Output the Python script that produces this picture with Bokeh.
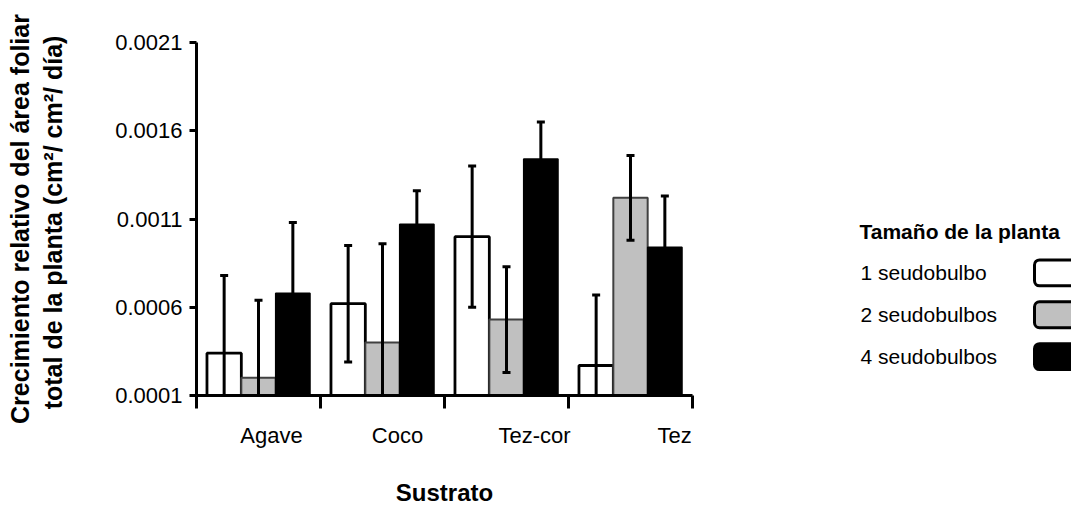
from bokeh.plotting import figure
from bokeh.models import (ColumnDataSource, Range1d, FixedTicker, PrintfTickFormatter,
                          Whisker, TeeHead)
from bokeh.layouts import row
from bokeh.core.properties import value
from bokeh.embed import file_html
from bokeh.resources import INLINE

# ---------------- data ----------------
categories = ["Agave", "Coco", "Tez-cor", "Tez"]
series_names = ["1 seudobulbo", "2 seudobulbos", "4 seudobulbos"]
vals_1 = [0.00034, 0.00062, 0.00100, 0.00027]
vals_2 = [0.00020, 0.00040, 0.00053, 0.00122]
vals_4 = [0.00068, 0.00107, 0.00144, 0.00094]
err_1 = [0.00044, 0.00033, 0.00040, 0.00040]
err_2 = [0.00044, 0.00056, 0.00030, 0.00024]
err_4 = [0.00040, 0.00019, 0.00021, 0.00029]
y_ticks = [0.0001, 0.0006, 0.0011, 0.0016, 0.0021]

# ---------------- styles ----------------
FONT = "Liberation Sans"
fills = ["white", "#c0c0c0", "black"]
lines = ["black", "#404040", "black"]
line_widths = [2.8, 2, 1.5]
bar_w = 0.277
offsets = [-bar_w, 0.0, bar_w]
label_shift = [0.105, 0.121, 0.226, 0.355]  # visual offset of category labels
Y0, Y1 = y_ticks[0], y_ticks[-1]
TOP, BOTTOM = 42, 112

p = figure(width=845, height=508, output_backend="svg", toolbar_location=None,
           x_range=Range1d(0, len(categories)), y_range=Range1d(Y0, Y1),
           min_border_left=196, min_border_right=153, min_border_top=TOP,
           min_border_bottom=BOTTOM)
p.outline_line_color = None
p.xgrid.visible = False
p.ygrid.visible = False
p.background_fill_color = "white"
p.border_fill_color = "white"

for vals, errs, off, fc, lc, lw in zip([vals_1, vals_2, vals_4], [err_1, err_2, err_4],
                                       offsets, fills, lines, line_widths):
    xs = [i + 0.5 + off for i in range(len(categories))]
    upper = [v + e for v, e in zip(vals, errs)]
    lower = [max(v - e, Y0) for v, e in zip(vals, errs)]
    src = ColumnDataSource(dict(x=xs, top=vals, upper=upper, lower=lower))
    p.vbar(x="x", top="top", bottom=Y0, width=bar_w, source=src,
           fill_color=fc, line_color=lc, line_width=lw)
    w = Whisker(source=src, base="x", upper="upper", lower="lower",
                line_color="black", line_width=3, level="overlay",
                upper_head=TeeHead(size=8, line_width=3, line_color="black"),
                lower_head=TeeHead(size=8, line_width=3, line_color="black"))
    p.add_layout(w)

# y axis
ya = p.yaxis[0]
ya.ticker = FixedTicker(ticks=y_ticks)
ya.formatter = PrintfTickFormatter(format="%.4f")
ya.axis_line_width = 3
ya.major_tick_line_width = 3
ya.major_tick_out = 7
ya.major_tick_in = 0
ya.minor_tick_line_color = None
ya.major_label_text_font = FONT
ya.major_label_text_font_size = "22px"
ya.major_label_text_color = "black"
ya.major_label_standoff = 7
ya.axis_label = "Crecimiento relativo del área foliar\ntotal de la planta  (cm²/ cm²/ día)"
ya.axis_label_text_font = FONT
ya.axis_label_text_font_style = "bold"
ya.axis_label_text_font_size = "25px"
ya.axis_label_text_color = "black"
ya.axis_label_standoff = 45

# x axis
label_pos = [i + 0.5 + s for i, s in enumerate(label_shift)]
xa = p.xaxis[0]
xa.ticker = FixedTicker(ticks=label_pos, minor_ticks=list(range(len(categories) + 1)))
xa.major_label_overrides = {pos: c for pos, c in zip(label_pos, categories)}
xa.axis_line_width = 3
xa.major_tick_out = 0
xa.major_tick_in = 0
xa.minor_tick_in = 0
xa.minor_tick_out = 13
xa.minor_tick_line_width = 3
xa.minor_tick_line_color = "black"
xa.major_label_text_font = FONT
xa.major_label_text_font_size = "22px"
xa.major_label_text_color = "black"
xa.major_label_standoff = 14
xa.axis_label = "Sustrato"
xa.axis_label_text_font = FONT
xa.axis_label_text_font_style = "bold"
xa.axis_label_text_font_size = "24px"
xa.axis_label_text_color = "black"
xa.axis_label_standoff = 28

# ---------------- legend panel (frame aligned with main frame; y in screen px) ----------------
lg = figure(width=226, height=508, output_backend="svg", toolbar_location=None,
            x_range=Range1d(845, 1071), y_range=Range1d(508 - BOTTOM, TOP),
            min_border_left=0, min_border_right=0,
            min_border_top=TOP, min_border_bottom=BOTTOM)
lg.axis.visible = False
lg.grid.visible = False
lg.outline_line_color = None
lg.text(x=[859], y=[232], text=["Tamaño de la planta"], text_font=value(FONT),
        text_font_style="bold", text_font_size="21px", text_baseline="middle",
        text_color="black")
item_y = [273, 315, 357]
lg.text(x=[860] * 3, y=item_y, text=series_names, text_font=value(FONT),
        text_font_size="21px", text_baseline="middle", text_color="black")
lg.quad(left=[1034] * 3, right=[1085] * 3,
        top=[y - 13 for y in item_y], bottom=[y + 13 for y in item_y],
        fill_color=fills, line_color="black", line_width=3, border_radius=5)

layout = row(p, lg)
open("out.html", "w").write(file_html(layout, INLINE))
